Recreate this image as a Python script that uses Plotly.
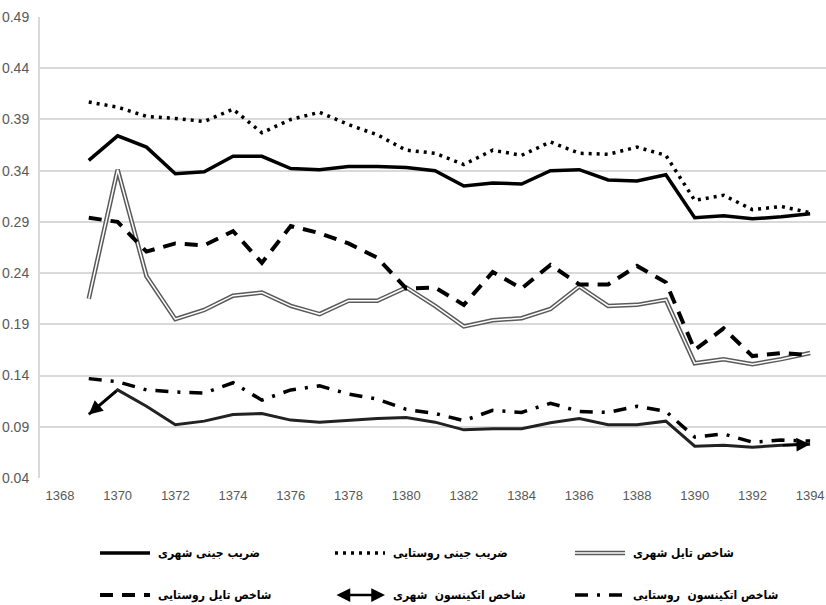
import plotly.graph_objects as go

years = list(range(1369, 1395))
x_ticks = list(range(1368, 1395, 2))
y_ticks = [0.04, 0.09, 0.14, 0.19, 0.24, 0.29, 0.34, 0.39, 0.44, 0.49]

gini_urban = [0.350, 0.374, 0.363, 0.337, 0.339, 0.354, 0.354, 0.342, 0.341, 0.344, 0.344, 0.343, 0.340,
              0.325, 0.328, 0.327, 0.340, 0.341, 0.331, 0.330, 0.336, 0.294, 0.296, 0.293, 0.295, 0.298]
gini_rural = [0.407, 0.402, 0.393, 0.391, 0.388, 0.400, 0.377, 0.390, 0.397, 0.385, 0.375, 0.360, 0.357,
              0.346, 0.360, 0.355, 0.368, 0.357, 0.356, 0.363, 0.355, 0.311, 0.316, 0.302, 0.305, 0.299]
theil_urban = [0.215, 0.341, 0.237, 0.195, 0.204, 0.218, 0.221, 0.208, 0.200, 0.213, 0.213, 0.226, 0.208,
               0.188, 0.194, 0.196, 0.205, 0.227, 0.208, 0.209, 0.214, 0.152, 0.156, 0.151, 0.156, 0.162]
theil_rural = [0.294, 0.290, 0.261, 0.269, 0.267, 0.281, 0.250, 0.286, 0.279, 0.269, 0.255, 0.225, 0.226,
               0.209, 0.241, 0.225, 0.248, 0.229, 0.229, 0.247, 0.231, 0.165, 0.186, 0.159, 0.162, 0.160]
atk_urban = [0.102, 0.126, 0.110, 0.092, 0.0955, 0.102, 0.103, 0.0965, 0.0945, 0.0965, 0.098, 0.099, 0.0945,
             0.087, 0.088, 0.088, 0.094, 0.098, 0.092, 0.092, 0.0955, 0.071, 0.072, 0.070, 0.072, 0.073]
atk_rural = [0.137, 0.134, 0.126, 0.124, 0.123, 0.133, 0.116, 0.126, 0.130, 0.122, 0.117, 0.107, 0.103,
             0.096, 0.106, 0.104, 0.113, 0.105, 0.104, 0.110, 0.105, 0.080, 0.083, 0.075, 0.077, 0.076]

names = ["ضریب جینی شهری", "ضریب جینی روستایی", "شاخص تایل شهری",
         "شاخص تایل روستایی", "شاخص اتکینسون  شهری", "شاخص اتکینسون  روستایی"]

# body margin is removed by post_script, so figure sits at page (0, 0)
OFF = 0
W, H = 826 - OFF, 605 - OFF
ML, MR, MT, MB = 40 - OFF, 0, 17 - OFF, 127
PW, PH = W - ML - MR, H - MT - MB


def px(xp):
    return (xp - OFF - ML) / PW


def py(yp):
    return (H - MB - (yp - OFF)) / PH


fig = go.Figure()

# Theil urban: double line (dark outer, white inner)
fig.add_trace(go.Scatter(x=years, y=theil_urban, mode="lines",
                         line=dict(color="#5a5a5a", width=4.5), showlegend=False, hoverinfo="skip"))
fig.add_trace(go.Scatter(x=years, y=theil_urban, mode="lines",
                         line=dict(color="white", width=1.5), showlegend=False, name=names[2]))
# Gini rural dotted
fig.add_trace(go.Scatter(x=years, y=gini_rural, mode="lines",
                         line=dict(color="black", width=3.5, dash="3px,5px"), showlegend=False, name=names[1]))
# Theil rural dashed
fig.add_trace(go.Scatter(x=years, y=theil_rural, mode="lines",
                         line=dict(color="black", width=4, dash="13px,9px"), showlegend=False, name=names[3]))
# Atkinson rural dash-dot
fig.add_trace(go.Scatter(x=years, y=atk_rural, mode="lines",
                         line=dict(color="black", width=3.5, dash="13px,9px,3px,9px"), showlegend=False, name=names[5]))
# Atkinson urban solid with arrows
fig.add_trace(go.Scatter(x=years, y=atk_urban, mode="lines",
                         line=dict(color="#222222", width=3), showlegend=False, name=names[4]))
# Gini urban solid thick
fig.add_trace(go.Scatter(x=years, y=gini_urban, mode="lines",
                         line=dict(color="black", width=3.5), showlegend=False, name=names[0]))

annotations = []
# arrows at both ends of Atkinson urban
for i0, i1 in [(0, 1), (-1, -2)]:
    annotations.append(dict(x=years[i0], y=atk_urban[i0], ax=years[i1], ay=atk_urban[i1],
                            xref="x", yref="y", axref="x", ayref="y", text="", showarrow=True,
                            arrowhead=2, arrowsize=1.1, arrowwidth=2.5, arrowcolor="black", standoff=0))

# manual legend (page pixel positions)
legend_items = [
    (0, 553, 100, dict(color="black", width=3.5, dash="solid")),
    (1, 553, 335, dict(color="black", width=3.5, dash="3px,5px")),
    (2, 553, 575, None),
    (3, 595, 100, dict(color="black", width=4, dash="13px,9px")),
    (4, 595, 335, "arrow"),
    (5, 595, 575, dict(color="black", width=3.5, dash="13px,9px,3px,9px")),
]
shapes = []
SW = 50
for idx, yy, x0, style in legend_items:
    if style is None:
        shapes.append(dict(type="line", xref="paper", yref="paper", x0=px(x0), x1=px(x0 + SW),
                           y0=py(yy), y1=py(yy), line=dict(color="#5a5a5a", width=4.5)))
        shapes.append(dict(type="line", xref="paper", yref="paper", x0=px(x0), x1=px(x0 + SW),
                           y0=py(yy), y1=py(yy), line=dict(color="white", width=1.5)))
    elif style == "arrow":
        annotations.append(dict(x=px(x0 + SW), y=py(yy), xref="paper", yref="paper",
                                ax=-SW, ay=0, text="", showarrow=True, arrowside="end+start",
                                arrowhead=2, arrowsize=1.1, arrowwidth=2.5, arrowcolor="black", standoff=0,
                                startstandoff=0, startarrowhead=2, startarrowsize=1.1))
    else:
        shapes.append(dict(type="line", xref="paper", yref="paper", x0=px(x0), x1=px(x0 + SW),
                           y0=py(yy), y1=py(yy), line=style))
    annotations.append(dict(x=px(x0 + SW + 6), y=py(yy), xref="paper", yref="paper",
                            text="<b>" + names[idx] + "</b>", showarrow=False, xanchor="left", yanchor="middle",
                            font=dict(family="DejaVu Sans Condensed, DejaVu Sans", size=12, color="black")))

fig.update_layout(
    width=W, height=H,
    margin=dict(l=ML, r=MR, t=MT, b=MB),
    plot_bgcolor="white", paper_bgcolor="white",
    showlegend=False,
    shapes=shapes, annotations=annotations,
    font=dict(family="Liberation Sans Narrow, Liberation Sans, Arial", size=14, color="#595959"),
)
fig.update_xaxes(range=[1367.31, 1394.55], tickvals=x_ticks, ticktext=[str(v) for v in x_ticks],
                 showgrid=False, zeroline=False, showline=False, ticks="", ticklabelstandoff=8,
                 ticklabeloverflow="allow", tickfont=dict(size=13))
fig.update_yaxes(range=[0.04, 0.49], tickvals=y_ticks, ticktext=["%.2f" % v for v in y_ticks],
                 showgrid=True, gridcolor="#d9d9d9", gridwidth=2, zeroline=False,
                 showline=True, linecolor="#d9d9d9", linewidth=2, ticks="", ticklabelstandoff=6)

fig.write_html("out.html", config={"displayModeBar": False},
               post_script="document.body.style.margin='0';document.body.style.overflow='hidden';")
